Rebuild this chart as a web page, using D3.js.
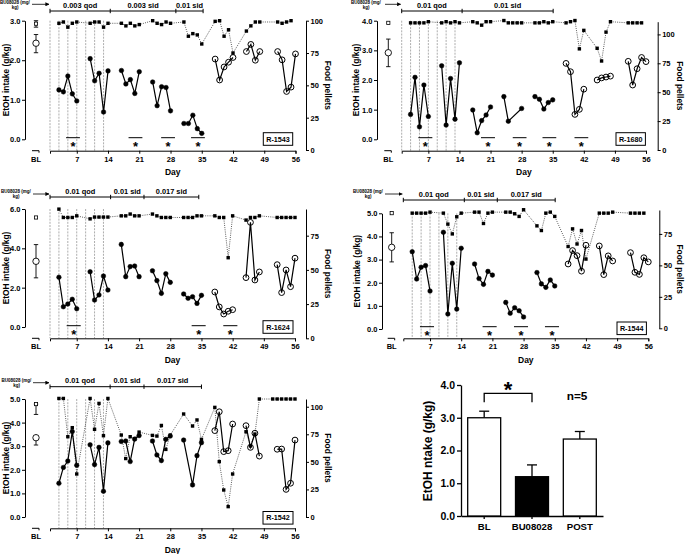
<!DOCTYPE html>
<html><head><meta charset="utf-8">
<script src="https://cdn.jsdelivr.net/npm/d3@7"></script>
<style>
body{margin:0;background:#fff}
svg{display:block}
text{font-family:"Liberation Sans",Arial,sans-serif;font-weight:bold;fill:#000}
</style>
</head><body>
<svg id="c" width="685" height="554"></svg>
<script>
// ---------------- DATA ----------------
const DAY_TICKS = [7,14,21,28,35,42,49,56];
const SPLIT_DAY = 35; // filled circles up to day 35, open circles afterwards

// R-1543
const R1543_DAYS = [3,4,5,6,7,10,11,12,13,14,17,18,19,20,21,24,25,26,27,28,31,32,33,34,35,38,39,40,41,42,45,46,47,48,52,53,54,55,56];
const R1543_ETOH = [1.25,1.20,1.60,1.15,0.97, 2.04,1.48,1.67,0.69,1.73, 1.74,1.40,1.51,1.16,1.71, 1.45,0.85,1.33,1.31,0.72, 0.40,0.40,0.61,0.27,0.15, 2.03,1.50,1.83,1.95,2.07, 2.22,2.40,2.00,2.22, 2.22,2.01,1.21,1.32,2.16];
const R1543_PEL_DAYS = [3,4,5,6,7,10,11,12,13,14,17,18,19,20,21,24,25,26,27,28,31,32,33,34,35,38,39,40,41,42,45,46,47,48,52,53,54,55];
const R1543_PELLETS = [98,99,95,98,99, 98,99,99,95,98, 98,96,98,96,97, 100,98,97,99,98, 99,88,90,89,82, 99.5,100,88,93,75, 92,96,99,99, 99,98,99,100];
const R1543_BL = [2.43,2.19,2.65];
const R1543_BL_PEL = [97.7,95,100];
const R1543_DOSE_BOUNDS = [1,14.5,29.2,35.3];
const R1543_DOSE_LABELS = ["0.003 qod","0.003 sid","0.01 sid"];
const R1543_SIG_START = [4.6,18.6,25.9,32.6];
const R1543_SIG_END = [7.7,21.7,29.0,35.7];

// R-1680
const R1680_DAYS = [3,4,5,6,7,10,11,12,13,14,17,18,19,20,21,24,25,28,31,32,33,34,35,38,39,40,41,42,45,46,47,48,52,53,54,55,56];
const R1680_ETOH = [0.84,2.09,0.42,1.83,0.77, 2.48,0.48,2.05,0.68,2.58, 0.99,0.22,0.63,0.82,1.09, 1.44,0.61,1.04, 1.44,1.35,1.02,1.24,1.33, 2.56,2.28,0.84,1.01,1.69, 2.00,2.07,2.10,2.13, 2.63,1.83,2.38,2.76,2.62];
const R1680_PEL_DAYS = [3,4,5,6,7,10,11,12,13,14,17,18,19,20,21,24,25,26,27,28,31,32,33,34,35,38,39,40,41,42,45,46,47,48,52,53,54,55];
const R1680_PELLETS = [110,110,110,110,111, 110,111,110,111,110, 111,110,108,111,111, 112,110,110,110,110, 110,110,111,110,111, 110,111,112,87.5,103.5, 88,77,102,111, 110,110,110,110];
const R1680_BL = [2.92,2.45,3.38];
const R1680_BL_PEL = [110,110,110];
const R1680_DOSE_BOUNDS = [1,14.6,35.1];
const R1680_DOSE_LABELS = ["0.01 qod","0.01 sid"];
const R1680_SIG_START = [4.75,18.85,26.0,32.7,39.9];
const R1680_SIG_END = [7.9,22.0,29.1,35.8,43.0];

// R-1624
const R1624_DAYS = [3,4,5,6,7,10,11,12,13,14,17,18,19,20,21,24,25,26,27,28,31,32,33,34,35,38,39,40,41,42,45,46,47,48,52,53,54,55,56];
const R1624_ETOH = [2.53,1.03,1.17,1.41,0.93, 2.81,1.37,1.63,2.59,1.88, 4.20,2.56,3.07,3.10,2.56, 2.86,2.36,1.71,2.71,2.27, 1.68,1.46,1.54,1.20,1.61, 1.78,1.02,0.66,0.80,0.88, 2.51,5.32,2.39,2.80, 3.17,1.75,2.90,2.05,3.50];
const R1624_PEL_DAYS = [3,4,5,6,7,10,11,12,13,14,17,18,19,20,21,24,25,26,27,28,31,32,33,34,35,38,39,40,41,42,45,46,47,48,52,53,54,55,56];
const R1624_PELLETS = [94.4,88.3,88.3,88.3,89.5, 87.3,88.6,88.6,88.6,88.6, 89.5,89.5,90.8,89.5,89.5, 90.8,89.5,88.3,88.3,88.3, 88.3,88.3,88.3,89.5,89.5, 89.5,88.3,88.3,58.9,89.5, 86.4,88.3,88.3,89.5, 88.3,88.3,88.3,88.3,88.3];
const R1624_BL = [3.34,2.50,4.19];
const R1624_BL_PEL = [88.3,88.3,88.3];
const R1624_DOSE_BOUNDS = [1,14.6,22.1,34.4];
const R1624_DOSE_LABELS = ["0.01 qod","0.01 sid","0.017 sid"];
const R1624_SIG_START = [4.74,32.8,39.9];
const R1624_SIG_END = [7.9,35.95,43.07];

// R-1544
const R1544_DAYS = [3,4,5,6,7,10,11,12,13,14,17,18,19,20,21,24,25,26,27,28,31,32,33,34,35,38,39,40,41,42,45,46,47,48,52,53,54,55,56];
const R1544_ETOH = [3.34,2.16,2.67,2.74,1.64, 4.18,0.65,2.84,0.86,3.49, 2.81,2.18,1.93,2.49,2.33, 1.15,0.68,0.92,0.79,0.52, 2.44,1.95,1.80,2.12,1.86, 2.81,3.39,3.17,2.50,3.62, 3.59,2.35,3.16,2.94, 3.30,2.45,2.36,3.08,2.90];
const R1544_PEL_DAYS = [3,4,5,6,7,10,11,12,13,14,17,18,19,20,21,24,25,26,27,28,31,32,33,34,35,38,39,40,41,42,45,46,47,48,52,53,54,55];
const R1544_PELLETS = [91.5,91.5,91.5,91.5,92.3, 91.5,82.8,75,88.6,91.5, 92.3,92.3,83.3,91.5,92.3, 92.3,92.3,91,88.9,94.2, 81.4,77.7,91.5,92.3,88.9, 65,79,67,77.7,55, 91.5,91.5,91.5,92.3, 91.5,91.5,91.5,91.5];
const R1544_BL = [3.53,2.90,4.16];
const R1544_BL_PEL = [91.5,91.5,91.5];
const R1544_DOSE_BOUNDS = [1,14.7,22.1,35.1];
const R1544_DOSE_LABELS = ["0.01 qod","0.01 sid","0.017 sid"];
const R1544_SIG_START = [4.74,18.8,25.85,32.8];
const R1544_SIG_END = [7.9,21.96,29.0,35.96];

// R-1542
const R1542_DAYS = [3,4,5,6,7,10,11,12,13,14,17,18,19,20,21,24,25,26,27,28,31,33,34,35,38,39,40,41,42,45,46,47,48,52,53,54,55,56];
const R1542_ETOH = [1.43,2.10,2.37,3.62,2.19, 3.06,2.22,2.95,1.09,3.14, 3.20,3.22,2.35,3.30,3.45, 3.22,2.63,2.39,3.29,3.43, 3.26,1.36,2.60,3.15, 3.66,4.46,2.77,2.81,3.94, 3.87,2.95,3.55,2.58, 2.87,2.88,1.17,1.43,3.26];
const R1542_PEL_DAYS = [3,4,5,6,7,10,11,12,13,14,17,18,19,20,21,24,25,26,27,28,31,33,34,35,38,39,40,41,42,45,46,47,48,51,52,53,54,55,56];
const R1542_PELLETS = [107.5,107.5,72.8,81,39, 107.5,79.5,103,73.7,107.5, 74.3,53,72.8,71,77, 74,73.4,83,61.3,74.3, 93.4,82.5,88,70.4, 99.4,50.2,24.5,9.4,39, 77.3,64.4,75.2,107, 107,107,107,107,107,107];
const R1542_BL = [3.36,3.05,3.36];
const R1542_BL_PEL = [102.4,93,102.4];
const R1542_DOSE_BOUNDS = [1,14.5,22.1,35.0];
const R1542_DOSE_LABELS = ["0.01 qod","0.01 sid","0.017 sid"];
const R1542_SIG_START = [];
const R1542_SIG_END = [];

// Summary bar chart
const BAR_CATS = ["BL","BU08028","POST"];
const BAR_MEANS = [3.0,1.2,2.35];
const BAR_SEM = [0.2,0.36,0.23];
const BAR_TICKS = [0,1,2,3,4];

// ---------------- DRAWING ----------------
const svg = d3.select("#c");
const FONT = '"Liberation Sans",Arial,sans-serif';

svg.append("defs").append("marker").attr("id","arr").attr("viewBox","0 0 10 10")
  .attr("refX",9).attr("refY",5).attr("markerWidth",5).attr("markerHeight",5).attr("orient","auto")
  .append("path").attr("d","M0,0L10,5L0,10z").attr("fill","#000");

function styleAxis(sel, fs){
  sel.attr("font-family",FONT).attr("font-size",fs).attr("font-weight","bold");
  sel.selectAll("path,line").attr("stroke","#000").attr("stroke-width",1);
  sel.selectAll("text").attr("fill","#000");
}

const PANELS = [
 {id:"R-1543", days:R1543_DAYS, etoh:R1543_ETOH, pDays:R1543_PEL_DAYS, pel:R1543_PELLETS, bl:R1543_BL, blPel:R1543_BL_PEL,
  doseB:R1543_DOSE_BOUNDS, doseL:R1543_DOSE_LABELS, sigS:R1543_SIG_START, sigE:R1543_SIG_END,
  lMax:3, lTicks:[0,1,2,3], rMax:100, rTicks:[0,25,50,75,100], dash:[1,3,5,7,9,11,13],
  ox:25, blx:36, x1:50, x56:295.5, rx:306, yTop:20.7, yZero:139.3, rBottom:150, rTop:20.7, xAxisY:150.7,
  doseY:11, sigY:137.7, box:[263.3,132.7,29.4,12.6], lTitleX:6, rTitleX:328, buX:15, arrX0:32, arrY:4.3},
 {id:"R-1680", days:R1680_DAYS, etoh:R1680_ETOH, pDays:R1680_PEL_DAYS, pel:R1680_PELLETS, bl:R1680_BL, blPel:R1680_BL_PEL,
  doseB:R1680_DOSE_BOUNDS, doseL:R1680_DOSE_LABELS, sigS:R1680_SIG_START, sigE:R1680_SIG_END,
  lMax:4, lTicks:[0,1,2,3,4], rMax:111, rTicks:[0,25,50,75,100], dash:[1,3,5,7,9,11,13],
  ox:377, blx:388.3, x1:401.7, x56:646, rx:657.7, yTop:20.7, yZero:139.3, rBottom:150, rTop:21.7, xAxisY:150.7,
  doseY:11, sigY:137.7, box:[616,132.7,29.4,12.6], lTitleX:356, rTitleX:680, buX:366, arrX0:385, arrY:4.3},
 {id:"R-1624", days:R1624_DAYS, etoh:R1624_ETOH, pDays:R1624_PEL_DAYS, pel:R1624_PELLETS, bl:R1624_BL, blPel:R1624_BL_PEL,
  doseB:R1624_DOSE_BOUNDS, doseL:R1624_DOSE_LABELS, sigS:R1624_SIG_START, sigE:R1624_SIG_END,
  lMax:6, lTicks:[0,2,4,6], rMax:94.5, rTicks:[0,25,50,75], dash:[1,3,5,7,9,11,13],
  ox:25, blx:36, x1:50, x56:295, rx:306, yTop:209, yZero:327, rBottom:338.3, rTop:209, xAxisY:338.3,
  doseY:197, sigY:325.7, box:[263,320.7,30,12.6], lTitleX:6, rTitleX:328, buX:16, arrX0:33, arrY:194},
 {id:"R-1544", days:R1544_DAYS, etoh:R1544_ETOH, pDays:R1544_PEL_DAYS, pel:R1544_PELLETS, bl:R1544_BL, blPel:R1544_BL_PEL,
  doseB:R1544_DOSE_BOUNDS, doseL:R1544_DOSE_LABELS, sigS:R1544_SIG_START, sigE:R1544_SIG_END,
  lMax:5, lTicks:[0,1,2,3,4,5], rMax:94, rTicks:[0,25,50,75], dash:[3,5,7,9,11,13],
  ox:382, blx:391.7, x1:403.3, x56:648.3, rx:659.3, yTop:213.3, yZero:329, rBottom:328.3, rTop:210, xAxisY:338.3,
  doseY:200, sigY:326.7, box:[617,322,29.4,12.6], lTitleX:357, rTitleX:680, buX:368, arrX0:385, arrY:194},
 {id:"R-1542", days:R1542_DAYS, etoh:R1542_ETOH, pDays:R1542_PEL_DAYS, pel:R1542_PELLETS, bl:R1542_BL, blPel:R1542_BL_PEL,
  doseB:R1542_DOSE_BOUNDS, doseL:R1542_DOSE_LABELS, sigS:R1542_SIG_START, sigE:R1542_SIG_END,
  lMax:5, lTicks:[0,1,2,3,4,5], rMax:107, rTicks:[0,25,50,75,100], dash:[3,5,7,9,11,13],
  ox:25, blx:36, x1:50, x56:295, rx:306, yTop:399, yZero:517, rBottom:517, rTop:399, xAxisY:528.3,
  doseY:386.7, sigY:515, box:[263,511.5,30,12.6], lTitleX:6, rTitleX:328, buX:16.5, arrX0:33, arrY:382.7}
];

function drawPanel(p){
  const g = svg.append("g");
  const x = d3.scaleLinear().domain([1,56]).range([p.x1,p.x56]);
  const yL = d3.scaleLinear().domain([0,p.lMax]).range([p.yZero,p.yTop]);
  const yR = d3.scaleLinear().domain([0,p.rMax]).range([p.rBottom,p.rTop]);

  // vertical dashed guides
  g.selectAll("line.dash").data(p.dash).join("line").attr("class","dash")
    .attr("x1",d=>x(d)).attr("x2",d=>x(d)).attr("y1",p.yTop).attr("y2",p.xAxisY)
    .attr("stroke","#8a8a8a").attr("stroke-width",0.7).attr("stroke-dasharray","2,1.2");

  // axes
  const gl = g.append("g").attr("transform",`translate(${p.ox},0)`)
    .call(d3.axisLeft(yL).tickValues(p.lTicks).tickFormat(d3.format(".1f")).tickSize(3).tickSizeOuter(0).tickPadding(1.5));
  styleAxis(gl,7.5);
  const gr = g.append("g").attr("transform",`translate(${p.rx},0)`)
    .call(d3.axisRight(yR).tickValues(p.rTicks).tickSize(3).tickSizeOuter(0).tickPadding(1.5));
  styleAxis(gr,7.5);
  const gx = g.append("g").attr("transform",`translate(0,${p.xAxisY})`)
    .call(d3.axisBottom(x).tickValues(DAY_TICKS).tickSize(3).tickSizeOuter(3).tickPadding(2.5));
  styleAxis(gx,7.5);
  // BL axis stub
  g.append("line").attr("x1",p.blx-4).attr("x2",p.blx+3).attr("y1",p.xAxisY).attr("y2",p.xAxisY).attr("stroke","#000").attr("stroke-width",1);
  g.append("line").attr("x1",p.blx+3).attr("x2",p.blx+3).attr("y1",p.xAxisY).attr("y2",p.xAxisY+2).attr("stroke","#000").attr("stroke-width",1);
  g.append("text").attr("x",p.blx).attr("y",p.xAxisY+11).attr("text-anchor","middle").attr("font-size",7.5).text("BL");
  g.append("text").attr("x",(p.x1+p.x56)/2).attr("y",p.xAxisY+24.5).attr("text-anchor","middle").attr("font-size",8.5).text("Day");

  // titles
  g.append("text").attr("transform",`translate(${p.lTitleX},${(p.yTop+p.yZero)/2}) rotate(-90)`)
    .attr("text-anchor","middle").attr("dy","0.35em").attr("font-size",8.4).text("EtOH intake (g/kg)");
  g.append("text").attr("transform",`translate(${p.rTitleX},${(p.rTop+p.rBottom)/2}) rotate(90)`)
    .attr("text-anchor","middle").attr("dy","0.35em").attr("font-size",8.4).text("Food pellets");

  // dose bar
  g.append("line").attr("x1",x(p.doseB[0])).attr("x2",x(p.doseB[p.doseB.length-1])).attr("y1",p.doseY).attr("y2",p.doseY).attr("stroke","#000").attr("stroke-width",1);
  g.selectAll("line.dt").data(p.doseB).join("line").attr("class","dt")
    .attr("x1",d=>x(d)).attr("x2",d=>x(d)).attr("y1",p.doseY-2.2).attr("y2",p.doseY+2.2).attr("stroke","#000").attr("stroke-width",1);
  g.selectAll("text.dl").data(p.doseL).join("text").attr("class","dl")
    .attr("x",(d,i)=>(x(p.doseB[i])+x(p.doseB[i+1]))/2).attr("y",p.doseY-3.3)
    .attr("text-anchor","middle").attr("font-size",7.4).text(d=>d);
  // BU08028 label + arrow
  g.append("text").attr("x",p.buX).attr("y",p.arrY-0.8).attr("text-anchor","middle").attr("font-size",4.5).text("BU08028 (mg/");
  g.append("text").attr("x",p.buX).attr("y",p.arrY+4.2).attr("text-anchor","middle").attr("font-size",4.5).text("kg)");
  g.append("line").attr("x1",p.arrX0).attr("x2",p.x1-1).attr("y1",p.arrY).attr("y2",p.arrY)
    .attr("stroke","#000").attr("stroke-width",0.8).attr("marker-end","url(#arr)");

  // pellets: dotted line + squares
  const pel = p.pDays.map((d,i)=>({d,v:p.pel[i]}));
  g.append("path").attr("d",d3.line().x(q=>x(q.d)).y(q=>yR(q.v))(pel))
    .attr("fill","none").attr("stroke","#333").attr("stroke-width",0.8).attr("stroke-dasharray","1,1.2");
  g.selectAll("rect.pel").data(pel).join("rect").attr("class","pel")
    .attr("x",q=>x(q.d)-1.7).attr("y",q=>yR(q.v)-1.7).attr("width",3.4).attr("height",3.4).attr("fill","#000");

  // EtOH: solid lines per week block
  const pts = p.days.map((d,i)=>({d,v:p.etoh[i]}));
  const blocks = d3.groups(pts,q=>Math.floor((q.d-2)/7));
  blocks.forEach(([k,arr])=>{
    g.append("path").attr("d",d3.line().x(q=>x(q.d)).y(q=>yL(q.v))(arr))
      .attr("fill","none").attr("stroke","#000").attr("stroke-width",1.2);
  });
  g.selectAll("circle.e").data(pts).join("circle").attr("class","e")
    .attr("cx",q=>x(q.d)).attr("cy",q=>yL(q.v))
    .attr("r",q=>q.d<=SPLIT_DAY?2.3:2.9)
    .attr("fill",q=>q.d<=SPLIT_DAY?"#000":"none")
    .attr("stroke","#000").attr("stroke-width",q=>q.d<=SPLIT_DAY?0.5:1);

  // baseline points
  const bx = p.blx;
  const eb = (y0,y1)=>{
    g.append("line").attr("x1",bx).attr("x2",bx).attr("y1",y0).attr("y2",y1).attr("stroke","#000").attr("stroke-width",0.9);
    [y0,y1].forEach(yy=>g.append("line").attr("x1",bx-2.2).attr("x2",bx+2.2).attr("y1",yy).attr("y2",yy).attr("stroke","#000").attr("stroke-width",0.9));
  };
  if (p.bl[1]!==p.bl[2]) eb(yL(p.bl[1]),yL(p.bl[2]));
  g.append("circle").attr("cx",bx).attr("cy",yL(p.bl[0])).attr("r",3.2).attr("fill","#fff").attr("stroke","#000").attr("stroke-width",0.9);
  if (p.blPel[1]!==p.blPel[2]) eb(yR(p.blPel[1]),yR(p.blPel[2]));
  g.append("rect").attr("x",bx-1.6).attr("y",yR(p.blPel[0])-1.6).attr("width",3.2).attr("height",3.2)
    .attr("fill","#fff").attr("stroke","#000").attr("stroke-width",0.8);

  // significance bars
  p.sigS.forEach((s,i)=>{
    const e = p.sigE[i];
    g.append("line").attr("x1",x(s)).attr("x2",x(e)).attr("y1",p.sigY).attr("y2",p.sigY).attr("stroke","#000").attr("stroke-width",1);
    g.append("text").attr("x",(x(s)+x(e))/2).attr("y",p.sigY+13.5).attr("text-anchor","middle").attr("font-size",13).text("*");
  });

  // ID box
  const [bx0,by0,bw,bh] = p.box;
  g.append("rect").attr("x",bx0).attr("y",by0).attr("width",bw).attr("height",bh).attr("fill","#fff").attr("stroke","#000").attr("stroke-width",1);
  g.append("text").attr("x",bx0+bw/2).attr("y",by0+bh/2).attr("dy","0.35em").attr("text-anchor","middle").attr("font-size",7.2).text(p.id);
}
PANELS.forEach(drawPanel);

// ---------------- Summary bar chart ----------------
(function(){
  const g = svg.append("g");
  const x = d3.scaleBand().domain(BAR_CATS).range([461,603]).paddingInner(0.31).paddingOuter(0.14);
  const y = d3.scaleLinear().domain([0,4]).range([516,385]);
  const ga = g.append("g").attr("transform","translate(461,0)")
    .call(d3.axisLeft(y).tickValues(BAR_TICKS).tickFormat(d3.format(".1f")).tickSize(4).tickSizeOuter(0).tickPadding(2));
  styleAxis(ga,10.5);
  ga.selectAll("path,line").attr("stroke-width",1.3);
  const gx = g.append("g").attr("transform","translate(0,516)")
    .call(d3.axisBottom(x).tickSize(3).tickSizeOuter(0).tickPadding(4));
  styleAxis(gx,9.6);
  gx.selectAll("path,line").attr("stroke-width",1.3);

  BAR_CATS.forEach((c,i)=>{
    const cx = x(c)+x.bandwidth()/2;
    g.append("line").attr("x1",cx).attr("x2",cx).attr("y1",y(BAR_MEANS[i])).attr("y2",y(BAR_MEANS[i]+BAR_SEM[i])).attr("stroke","#000").attr("stroke-width",1.3);
    g.append("line").attr("x1",cx-5).attr("x2",cx+5).attr("y1",y(BAR_MEANS[i]+BAR_SEM[i])).attr("y2",y(BAR_MEANS[i]+BAR_SEM[i])).attr("stroke","#000").attr("stroke-width",1.3);
    g.append("rect").attr("x",x(c)).attr("y",y(BAR_MEANS[i])).attr("width",x.bandwidth()).attr("height",y(0)-y(BAR_MEANS[i]))
      .attr("fill",c==="BU08028"?"#000":"#fff").attr("stroke","#000").attr("stroke-width",1.3);
  });
  const c0 = x(BAR_CATS[0])+x.bandwidth()/2, c1 = x(BAR_CATS[1])+x.bandwidth()/2;
  g.append("path").attr("d",`M${c0},402.3V393.3H${c1}V402.3`).attr("fill","none").attr("stroke","#000").attr("stroke-width",1.3);
  g.append("text").attr("x",(c0+c1)/2).attr("y",397).attr("text-anchor","middle").attr("font-size",22).text("*");
  g.append("text").attr("x",577).attr("y",400).attr("text-anchor","middle").attr("font-size",11.8).text("n=5");
  g.append("text").attr("transform","translate(428,451) rotate(-90)").attr("text-anchor","middle").attr("dy","0.35em")
    .attr("font-size",12).text("EtOH ntake (g/kg)");
})();
</script>
</body></html>
